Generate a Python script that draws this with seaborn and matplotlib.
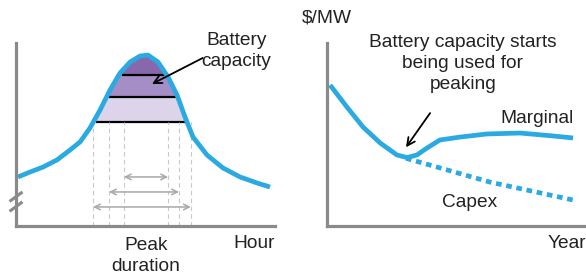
import numpy as np
import matplotlib
matplotlib.use("Agg")
from matplotlib import pyplot as plt
import seaborn as sns

# left panel: daily load curve (hour vs load, arbitrary units 0-100)
hour = [0.19, 1.30, 2.50, 3.80, 5.00, 5.93, 6.86, 7.79, 8.71, 9.64, 10.57, 11.49, 12.23,
        13.16, 14.09, 14.92, 15.66, 16.40, 17.70, 19.18, 20.76, 22.34, 23.54]
load = [26.8, 29.5, 32.2, 36.1, 41.5, 45.9, 53.6, 63.4, 74.3, 83.6, 89.6, 92.9, 93.4,
        89.6, 81.4, 71.6, 59.6, 48.6, 38.8, 31.7, 26.8, 23.5, 21.3]

# battery capacity slices: level, start hour, end hour
cap_level = [82.5, 70.5, 56.8]
cap_start = [9.85, 8.65, 7.4]
cap_end = [13.75, 14.8, 15.75]
cap_colors = ["#8868ad", "#a58dc6", "#ddd3ea"]

# peak duration markers
dur_y = [26.8, 18.6, 10.4]
dur_start = [10.0, 8.62, 7.14]
dur_end = [14.09, 15.1, 16.2]

# right panel: $/MW over years
year_m = [0.12, 0.77, 1.39, 2.05, 2.70, 3.09, 3.47, 3.86, 4.36, 5.14, 6.18, 7.45, 8.73, 9.5]
marginal = [77, 65, 54.1, 45.4, 38.8, 37.4, 38.8, 42.6, 47, 48.6, 50.3, 50.8, 49.2, 48.1]
year_c = [3.05, 6.29, 9.5]
capex = [37, 24, 14.2]

blue = "#2aaae1"
axis_grey = "#8a8a8a"
txt = "#222222"

sns.set_style("white")
plt.rcParams["font.family"] = ["Liberation Sans", "DejaVu Sans"]
fs = 13.8

fig = plt.figure(figsize=(5.86, 2.8), dpi=100)
ax1 = fig.add_axes([16 / 586, 54 / 280, 259 / 586, 183 / 280])
ax2 = fig.add_axes([327 / 586, 54 / 280, 259 / 586, 183 / 280])

for ax in (ax1, ax2):
    sns.despine(ax=ax)
    for s in ("left", "bottom"):
        ax.spines[s].set_color(axis_grey)
        ax.spines[s].set_linewidth(2.3)
    ax.set_xticks([])
    ax.set_yticks([])
    ax.set_ylim(0, 100)
ax1.set_xlim(0, 24)
ax2.set_xlim(0, 10)

# --- left panel
h = np.array(hour)
l = np.array(load)
for lev, col in zip(cap_level[::-1], cap_colors[::-1]):
    ax1.fill_between(h, lev, l, where=l > lev, interpolate=True, color=col, lw=0)
ax1.hlines(cap_level, cap_start, cap_end, color="black", lw=1.6)

dash_x = dur_start + dur_end
ax1.vlines(dash_x, 0, cap_level[-1], color="#c9c9c9", lw=0.8, linestyles=(0, (4, 3)))
for y, a, b in zip(dur_y, dur_start, dur_end):
    ax1.annotate("", xy=(a, y), xytext=(b, y),
                 arrowprops=dict(arrowstyle="<->", color="#a8a8a8", lw=1.1, mutation_scale=10,
                                 shrinkA=0, shrinkB=0))

sns.lineplot(x=hour, y=load, ax=ax1, color=blue, lw=3.4, sort=False, estimator=None,
             solid_joinstyle="round", solid_capstyle="butt")

ax1.annotate("", xy=(12.6, 77.6), xytext=(17.3, 91.8),
             arrowprops=dict(arrowstyle="->", color="black", lw=1.3, mutation_scale=14,
                             shrinkA=0, shrinkB=0))
ax1.text(20.4, 95.6, "Battery\ncapacity", ha="center", va="center", fontsize=fs,
         linespacing=1.3, color=txt)
ax1.text(12.05, -16.4, "Peak\nduration", ha="center", va="center", fontsize=fs,
         linespacing=1.3, color=txt, clip_on=False)
ax1.text(22.06, -9.3, "Hour", ha="center", va="center", fontsize=fs, color=txt, clip_on=False)

# axis break marks
for yb in (16, 10.6):
    ax1.plot([-0.6, 0.6], [yb - 2.6, yb + 2.6], color=axis_grey, lw=2.2, clip_on=False,
             solid_capstyle="butt")

# --- right panel
sns.lineplot(x=year_c, y=capex, ax=ax2, color=blue, lw=3.4, sort=False, estimator=None,
             linestyle=(0, (1.2, 1.0)), dash_capstyle="butt")
sns.lineplot(x=year_m, y=marginal, ax=ax2, color=blue, lw=3.4, sort=False, estimator=None,
             solid_joinstyle="round", solid_capstyle="butt")

ax2.annotate("", xy=(3.05, 43), xytext=(3.98, 61.7),
             arrowprops=dict(arrowstyle="->", color="black", lw=1.3, mutation_scale=14,
                             shrinkA=0, shrinkB=0))
ax2.text(5.25, 89, "Battery capacity starts\nbeing used for\npeaking", ha="center",
         va="center", fontsize=fs, linespacing=1.3, color=txt)
ax2.text(0, 113.7, "$/MW", ha="center", va="center", fontsize=fs, color=txt, clip_on=False)
ax2.text(8.53, -9.3, "Year", ha="left", va="center", fontsize=fs, color=txt, clip_on=False)
ax2.text(8.11, 59, "Marginal", ha="center", va="center", fontsize=fs, color=txt)
ax2.text(5.52, 13.1, "Capex", ha="center", va="center", fontsize=fs, color=txt)

fig.savefig("out.png", dpi=100, facecolor="white")
